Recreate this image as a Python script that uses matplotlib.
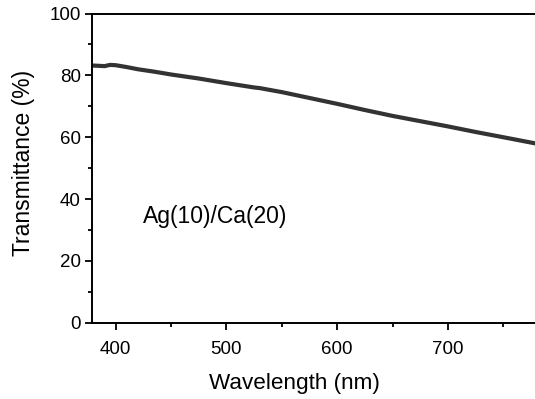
import matplotlib
matplotlib.use('Agg')
import matplotlib.pyplot as plt
from matplotlib.ticker import MultipleLocator

plt.rcParams['font.family'] = ['Liberation Sans', 'DejaVu Sans']

# transmittance spectrum
wavelength = [379, 385, 390, 395, 400, 410, 420, 435, 450, 475, 500, 525, 530,
              550, 575, 600, 625, 650, 675, 700, 725, 750, 779]
transmittance = [83.2, 83.1, 83.0, 83.4, 83.3, 82.7, 82.0, 81.2, 80.3, 79.0, 77.5,
                 76.1, 75.9, 74.6, 72.7, 70.8, 68.8, 66.9, 65.2, 63.5, 61.7, 60.0, 58.0]
sample_label = 'Ag(10)/Ca(20)'

fig = plt.figure(figsize=(5.35, 3.99), dpi=100)
ax = fig.add_axes([0.172, 0.191, 0.828, 0.775])

ax.plot(wavelength, transmittance, color='#333333', lw=3.0, solid_capstyle='butt')

ax.set_xlim(378.7, 778.5)
ax.set_ylim(0, 100)
ax.xaxis.set_major_locator(MultipleLocator(100))
ax.xaxis.set_minor_locator(MultipleLocator(50))
ax.yaxis.set_major_locator(MultipleLocator(20))
ax.yaxis.set_minor_locator(MultipleLocator(10))
ax.tick_params(which='major', direction='out', length=4.7, width=1.3, labelsize=13.5)
ax.tick_params(which='minor', direction='out', length=3, width=1.3)
ax.tick_params(axis='x', which='major', pad=8.5)
for s in ['left', 'bottom', 'top']:
    ax.spines[s].set_linewidth(1.4)
ax.spines['right'].set_visible(False)

ax.set_xlabel('Wavelength (nm)', fontsize=16.2, x=0.458, labelpad=11)
ax.set_ylabel('Transmittance (%)', fontsize=16.5, y=0.516, labelpad=10)
ax.text(424.6, 34.5, sample_label, fontsize=16.5, ha='left', va='center')

fig.savefig('out.png', dpi=100)
